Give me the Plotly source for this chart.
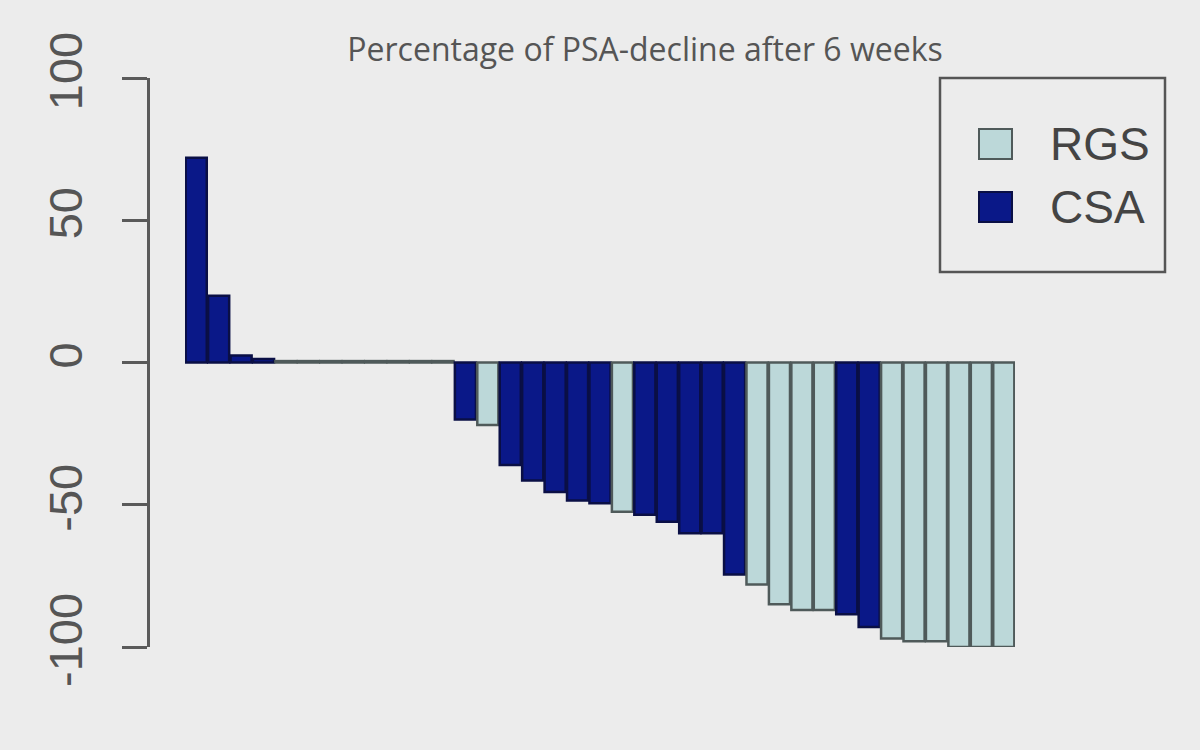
import plotly.graph_objects as go

# ---- data ----
patients = list(range(37))
psa_change = [72, 23.5, 2.5, 1.2, 0.5, 0.5, 0.5, 0.5, 0.5, 0.5, 0.5, 0.5,
              -20, -22, -36, -41.5, -45.5, -48.5, -49.5, -52.5, -53.5, -56,
              -60, -60, -74.5, -78, -85, -87, -87, -88.5, -93, -97, -98, -98,
              -100, -100, -100]
group = (["CSA"] * 4 + ["RGS"] * 8 + ["CSA", "RGS"] + ["CSA"] * 5 + ["RGS"]
         + ["CSA"] * 5 + ["RGS"] * 4 + ["CSA"] * 2 + ["RGS"] * 6)
legend_labels = ["RGS", "CSA"]
y_ticks = [-100, -50, 0, 50, 100]
title_text = "Percentage of PSA-decline after 6 weeks"

# ---- styles ----
fill = {"RGS": "#bcd8d9", "CSA": "#0a1888"}
edge = {"RGS": "#4f5a5a", "CSA": "#0a0f45"}
bg = "#ececec"
axis_col = "#5a5a5a"

W, H = 1200, 750
x_dom = [185 / W, 1015 / W]
y_dom = [1 - 647 / H, 1 - 78 / H]

fig = go.Figure()
fig.add_trace(go.Bar(
    x=patients, y=psa_change,
    marker=dict(color=[fill[g] for g in group],
                line=dict(color=[edge[g] for g in group], width=2.5)),
    showlegend=False, cliponaxis=False, hoverinfo="y",
))

fig.update_layout(
    width=W, height=H,
    paper_bgcolor=bg, plot_bgcolor=bg,
    margin=dict(l=0, r=0, t=0, b=0, autoexpand=False),
    bargap=0.06,
    title=dict(text=title_text, x=645 / W, xanchor="center",
               y=1 - 50 / H, yanchor="middle", automargin=False,
               font=dict(family="Open Sans", size=32, color="#555555")),
    xaxis=dict(domain=x_dom, range=[-0.5, 36.5], visible=False, anchor="y",
               automargin=False),
    yaxis=dict(domain=y_dom, range=[-100, 100], anchor="free", position=148 / W,
               automargin=False,
               tickvals=y_ticks, ticktext=[str(v) for v in y_ticks],
               showline=True, linecolor=axis_col, linewidth=2.5,
               ticks="outside", ticklen=25, tickwidth=2.5, tickcolor=axis_col,
               tickangle=-90, ticklabelstandoff=21,
               tickfont=dict(family="Liberation Sans", size=47, color="#555555"),
               showgrid=False, zeroline=False),
)

# ---- legend drawn manually (large symbols like the reference) ----
fig.add_shape(type="rect", xref="paper", yref="paper",
              x0=940 / W, x1=1165 / W, y0=1 - 272 / H, y1=1 - 78 / H,
              line=dict(color="#555555", width=2.5), fillcolor=bg)
legend_rows = [144, 207]
for lab, yc in zip(legend_labels, legend_rows):
    fig.add_shape(type="rect", xref="paper", yref="paper",
                  x0=979 / W, x1=1012 / W, y0=1 - (yc + 15) / H, y1=1 - (yc - 15) / H,
                  line=dict(color=edge[lab], width=2), fillcolor=fill[lab])
    fig.add_annotation(text=lab, xref="paper", yref="paper",
                       x=1048 / W, y=1 - yc / H, xanchor="left", yanchor="middle",
                       showarrow=False,
                       font=dict(family="Liberation Sans", size=46, color="#444444"))

fig.write_html(
    "out.html",
    config={"displayModeBar": False},
    post_script="document.body.style.margin='0';"
                "document.body.style.background='" + bg + "';"
                "document.body.style.overflow='hidden';",
)
